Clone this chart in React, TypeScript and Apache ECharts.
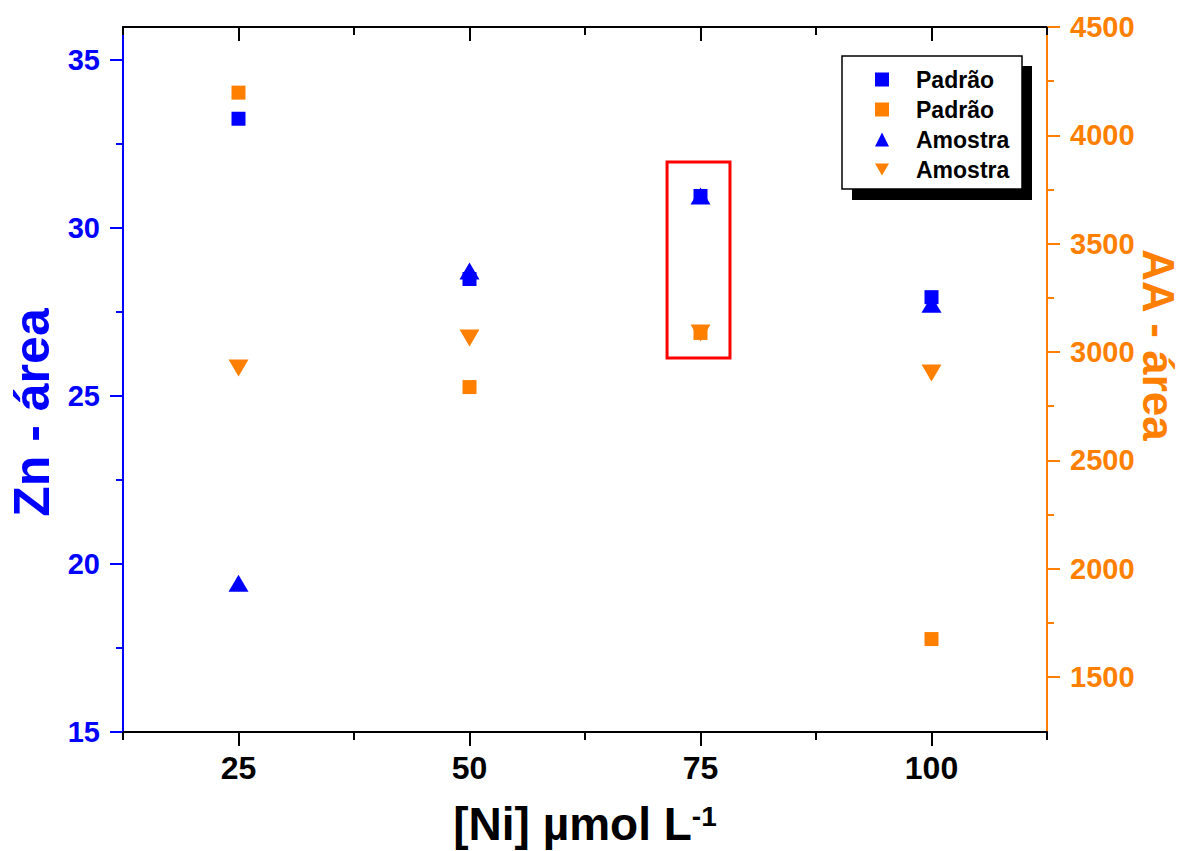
import React, { useEffect, useRef } from "react";
import * as echarts from "echarts";

// ---- data ----
const xValues = [25, 50, 75, 100];
const znPadrao = [33.25, 28.48, 30.95, 27.94];
const aaPadrao = [4197, 2838, 3088, 1675];
const znAmostra = [19.43, 28.72, 30.95, 27.73];
const aaAmostra = [2926, 3065, 3088, 2903];

const xTicks = [25, 50, 75, 100];
const xMinorTicks = [12.5, 37.5, 62.5, 87.5, 112.5];
const leftTicks = [15, 20, 25, 30, 35];
const leftMinorTicks = [17.5, 22.5, 27.5, 32.5];
const rightTicks = [1500, 2000, 2500, 3000, 3500, 4000, 4500];
const rightMinorTicks = [1750, 2250, 2750, 3250, 3750, 4250];

const seriesNames = ["Padrão (Zn)", "Padrão (AA)", "Amostra (Zn)", "Amostra (AA)"];
const highlightBox = [
  [71.38, 31.96],
  [78.19, 26.13],
];

const BLUE = "#0000FF";
const ORANGE = "#FF8000";
const FONT = "'Liberation Sans', Arial, sans-serif";

export default function App() {
  const ref = useRef<HTMLDivElement>(null);
  useEffect(() => {
    if (!ref.current) return;
    const chart = echarts.init(ref.current, undefined, { renderer: "svg" });
    const xMin = 12.5;
    const xMax = 112.5;
    const lMin = 15;
    const lMax = 35.98;
    const rMin = 1246;
    const rMax = 4500;
    const pair = (ys: number[]) => xValues.map((x, i) => [x, ys[i]]);
    const plain = (v: number) => String(v);

    chart.setOption({
      animation: false,
      backgroundColor: "#fff",
      grid: { left: 123, right: 140, top: 27, bottom: 119, containLabel: false, outerBoundsMode: "none" },
      legend: {
        orient: "vertical",
        left: 875,
        top: 68,
        padding: 0,
        itemWidth: 14,
        itemHeight: 14,
        itemGap: 7,
        z: 20,
        selectedMode: false,
        data: seriesNames,
        formatter: (name: string) => `{s| }{t|${name.split(" (")[0]}}`,
        textStyle: {
          color: "#000",
          fontFamily: FONT,
          fontWeight: "bold",
          fontSize: 23,
          rich: {
            s: { width: 22 },
            t: { fontFamily: FONT, fontWeight: "bold", fontSize: 23, color: "#000" },
          },
        },
      },
      graphic: [
        { type: "rect", z: 5, shape: { x: 852, y: 66, width: 180, height: 134 }, style: { fill: "#000" } },
        {
          type: "rect",
          z: 6,
          shape: { x: 842, y: 56, width: 180, height: 133 },
          style: { fill: "#fff", stroke: "#000", lineWidth: 1.5 },
        },
        {
          type: "text",
          z: 6,
          x: 1158,
          y: 345,
          rotation: -Math.PI / 2,
          style: {
            text: "AA - área",
            fill: ORANGE,
            font: `bold 44px ${FONT}`,
            align: "center",
            verticalAlign: "middle",
          },
        },
      ],
      xAxis: [
        {
          type: "value",
          position: "bottom",
          min: xMin,
          max: xMax,
          axisLine: { show: true, lineStyle: { color: "#000", width: 2 } },
          axisTick: { show: true, customValues: xTicks, length: 14, lineStyle: { color: "#000", width: 2 } },
          axisLabel: {
            customValues: xTicks,
            formatter: plain,
            color: "#000",
            fontFamily: FONT,
            fontWeight: "bold",
            fontSize: 32,
            margin: 20,
          },
          splitLine: { show: false },
          name: "{a|[Ni] µmol L}{b|-1}",
          nameLocation: "middle",
          nameGap: 70,
          nameTextStyle: {
            lineHeight: 44,
            rich: {
              a: { fontFamily: FONT, fontWeight: "bold", fontSize: 46, lineHeight: 44, color: "#000" },
              b: { fontFamily: FONT, fontWeight: "bold", fontSize: 28, lineHeight: 28, color: "#000", verticalAlign: "top" },
            },
          },
        },
        {
          type: "value",
          position: "bottom",
          min: xMin,
          max: xMax,
          axisLine: { show: false },
          axisTick: { show: true, customValues: xMinorTicks, length: 8, lineStyle: { color: "#000", width: 2 } },
          axisLabel: { show: false },
          splitLine: { show: false },
        },
        {
          type: "value",
          position: "top",
          min: xMin,
          max: xMax,
          axisLine: { show: true, lineStyle: { color: "#000", width: 2 } },
          axisTick: { show: true, inside: true, customValues: xTicks, length: 14, lineStyle: { color: "#000", width: 2 } },
          axisLabel: { show: false },
          splitLine: { show: false },
        },
        {
          type: "value",
          position: "top",
          min: xMin,
          max: xMax,
          axisLine: { show: false },
          axisTick: { show: true, inside: true, customValues: xMinorTicks, length: 8, lineStyle: { color: "#000", width: 2 } },
          axisLabel: { show: false },
          splitLine: { show: false },
        },
      ],
      yAxis: [
        {
          type: "value",
          position: "left",
          min: lMin,
          max: lMax,
          axisLine: { show: true, lineStyle: { color: BLUE, width: 2 } },
          axisTick: { show: true, customValues: leftTicks, length: 13, lineStyle: { color: BLUE, width: 2 } },
          axisLabel: {
            customValues: leftTicks,
            formatter: plain,
            color: BLUE,
            fontFamily: FONT,
            fontWeight: "bold",
            fontSize: 29,
            margin: 23,
          },
          splitLine: { show: false },
          name: "Zn - área",
          nameLocation: "middle",
          nameRotate: 90,
          nameGap: 64,
          nameTextStyle: {
            color: BLUE,
            fontFamily: FONT,
            fontWeight: "bold",
            fontSize: 50,
            padding: [0, 66, 0, 0],
          },
        },
        {
          type: "value",
          position: "right",
          min: rMin,
          max: rMax,
          axisLine: { show: true, lineStyle: { color: ORANGE, width: 2 } },
          axisTick: { show: true, customValues: rightTicks, length: 13, lineStyle: { color: ORANGE, width: 2 } },
          axisLabel: {
            customValues: rightTicks,
            formatter: plain,
            color: ORANGE,
            fontFamily: FONT,
            fontWeight: "bold",
            fontSize: 29,
            margin: 23,
          },
          splitLine: { show: false },
        },
        {
          type: "value",
          position: "left",
          min: lMin,
          max: lMax,
          axisLine: { show: false },
          axisTick: { show: true, customValues: leftMinorTicks, length: 7, lineStyle: { color: BLUE, width: 2 } },
          axisLabel: { show: false },
          splitLine: { show: false },
        },
        {
          type: "value",
          position: "right",
          min: rMin,
          max: rMax,
          axisLine: { show: false },
          axisTick: { show: true, customValues: rightMinorTicks, length: 7, lineStyle: { color: ORANGE, width: 2 } },
          axisLabel: { show: false },
          splitLine: { show: false },
        },
      ],
      series: [
        {
          name: seriesNames[0],
          type: "scatter",
          xAxisIndex: 0,
          yAxisIndex: 0,
          symbol: "rect",
          symbolSize: 14,
          itemStyle: { color: BLUE, opacity: 1 },
          data: pair(znPadrao),
          markArea: {
            silent: true,
            itemStyle: { color: "rgba(0,0,0,0)", borderColor: "#FF0000", borderWidth: 3 },
            data: [[{ coord: highlightBox[0] }, { coord: highlightBox[1] }]],
          },
        },
        {
          name: seriesNames[1],
          type: "scatter",
          xAxisIndex: 0,
          yAxisIndex: 1,
          symbol: "rect",
          symbolSize: 14,
          itemStyle: { color: ORANGE, opacity: 1 },
          data: pair(aaPadrao),
        },
        {
          name: seriesNames[2],
          type: "scatter",
          xAxisIndex: 0,
          yAxisIndex: 0,
          symbol: "triangle",
          symbolSize: [20, 17],
          itemStyle: { color: BLUE, opacity: 1 },
          data: pair(znAmostra),
        },
        {
          name: seriesNames[3],
          type: "scatter",
          xAxisIndex: 0,
          yAxisIndex: 1,
          symbol: "path://M0,0L20,0L10,17Z",
          symbolSize: [20, 17],
          itemStyle: { color: ORANGE, opacity: 1 },
          data: pair(aaAmostra),
        },
      ],
    });
    return () => chart.dispose();
  }, []);
  return (
    <div
      ref={ref}
      style={{ position: "fixed", left: 0, top: 0, width: 1187, height: 851, background: "#fff" }}
    />
  );
}
